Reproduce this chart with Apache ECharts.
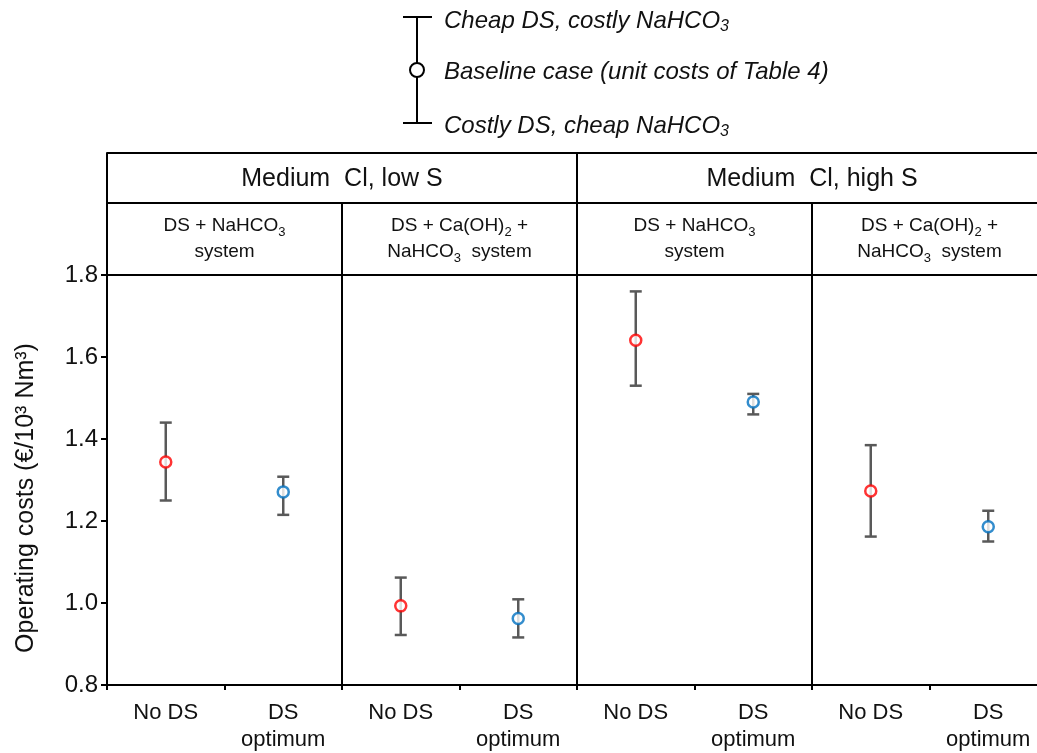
<!DOCTYPE html>
<html>
<head>
<meta charset="utf-8">
<script src="https://cdn.jsdelivr.net/npm/echarts@6/dist/echarts.min.js"></script>
<style>
  html, body { margin: 0; padding: 0; background: #fff; }
  #main { width: 1037px; height: 753px; }
</style>
</head>
<body>
<div id="main"></div>
<script>
// 数据
var categories = ['No DS', 'DS\noptimum', 'No DS', 'DS\noptimum', 'No DS', 'DS\noptimum', 'No DS', 'DS\noptimum'];
var groups = ['Medium  Cl, low S', 'Medium  Cl, high S'];
var systems = ['{t|DS + NaHCO}{s|3}\n{t|system}', '{t|DS + Ca(OH)}{s|2}{t| +}\n{t|NaHCO}{s|3}{t|  system}',
               '{t|DS + NaHCO}{s|3}\n{t|system}', '{t|DS + Ca(OH)}{s|2}{t| +}\n{t|NaHCO}{s|3}{t|  system}'];
var baseline = [1.344, 1.271, 0.993, 0.962, 1.641, 1.490, 1.273, 1.186];
var costlyNaHCO3 = [1.440, 1.308, 1.062, 1.009, 1.760, 1.510, 1.385, 1.225]; // cheap DS, costly NaHCO3
var cheapNaHCO3 = [1.250, 1.215, 0.922, 0.916, 1.530, 1.460, 1.162, 1.150];  // costly DS, cheap NaHCO3
var yTicks = [0.8, 1.0, 1.2, 1.4, 1.6, 1.8];

var font = 'Liberation Sans, Arial, sans-serif';
var black = '#000';
var txt = '#111';

var errData = [], noDsData = [], dsOptData = [];
for (var i = 0; i < categories.length; i++) {
  errData.push([i, cheapNaHCO3[i], costlyNaHCO3[i]]);
  if (i % 2 === 0) noDsData.push([i, baseline[i]]);
  else dsOptData.push([i, baseline[i]]);
}

var myChart = echarts.init(document.getElementById('main'));

var legendRich = {
  i: { fontFamily: font, fontStyle: 'italic', fontSize: 24, fill: txt },
  s: { fontFamily: font, fontStyle: 'italic', fontSize: 16, fill: txt, padding: [12, 0, 0, 0] }
};

var option = {
  animation: false,
  backgroundColor: '#fff',
  // 图表区超出画布右边
  grid: { left: 107, top: 275, width: 940, bottom: 68, outerBoundsMode: 'none', containLabel: false },
  xAxis: [
    {
      type: 'category', data: categories, position: 'bottom',
      axisLine: { lineStyle: { color: black, width: 2 } },
      axisTick: { show: true, interval: 0, length: 5, lineStyle: { color: black, width: 2 } },
      axisLabel: { interval: 0, color: txt, fontFamily: font, fontSize: 22, lineHeight: 27, margin: 14 },
      splitLine: { show: false }
    },
    {
      // 系统行
      type: 'category', data: systems, position: 'top', offset: 0,
      axisLine: { lineStyle: { color: black, width: 2 } },
      axisTick: { show: true, interval: 0, length: 72, lineStyle: { color: black, width: 2 } },
      splitLine: { show: true, interval: 0, lineStyle: { color: black, width: 2 } },
      axisLabel: {
        interval: 0, margin: 10, fontFamily: font, color: txt, lineHeight: 26,
        rich: {
          t: { fontSize: 19, fontFamily: font, color: txt, lineHeight: 26 },
          s: { fontSize: 13, fontFamily: font, color: txt, lineHeight: 26, verticalAlign: 'bottom', padding: [9, 0, 0, 0] }
        }
      }
    },
    {
      // 工况行
      type: 'category', data: groups, position: 'top', offset: 72,
      axisLine: { lineStyle: { color: black, width: 2 } },
      axisTick: { show: true, interval: 0, length: 50, lineStyle: { color: black, width: 2 } },
      axisLabel: { interval: 0, margin: 11, fontFamily: font, fontSize: 25, color: txt },
      splitLine: { show: false }
    },
    {
      type: 'category', data: groups, position: 'top', offset: 122,
      axisLine: { lineStyle: { color: black, width: 2 } },
      axisTick: { show: false }, axisLabel: { show: false }, splitLine: { show: false }
    }
  ],
  yAxis: {
    type: 'value', min: yTicks[0], max: yTicks[yTicks.length - 1], interval: 0.2,
    name: 'Operating costs (€/10³ Nm³)', nameLocation: 'middle', nameGap: 68,
    nameTextStyle: { fontFamily: font, fontSize: 25, color: txt, padding: [0, 36, 0, 0] },
    axisLine: { show: true, lineStyle: { color: black, width: 2 } },
    axisTick: { show: true, length: 6, lineStyle: { color: black, width: 2 } },
    axisLabel: { fontFamily: font, fontSize: 24, color: txt, margin: 9,
                 formatter: function (v) { return v.toFixed(1); } },
    splitLine: { show: false }
  },
  graphic: [
    // 图例
    { type: 'line', shape: { x1: 417, y1: 17, x2: 417, y2: 123 }, style: { stroke: black, lineWidth: 2 } },
    { type: 'line', shape: { x1: 403, y1: 17, x2: 432, y2: 17 }, style: { stroke: black, lineWidth: 2 } },
    { type: 'line', shape: { x1: 403, y1: 123, x2: 432, y2: 123 }, style: { stroke: black, lineWidth: 2 } },
    { type: 'circle', shape: { cx: 417, cy: 70, r: 7 }, style: { fill: '#fff', stroke: black, lineWidth: 2 } },
    { type: 'text', x: 444, y: 21, style: { text: '{i|Cheap DS, costly NaHCO}{s|3}', verticalAlign: 'middle', rich: legendRich } },
    { type: 'text', x: 444, y: 72, style: { text: 'Baseline case (unit costs of Table 4)', verticalAlign: 'middle',
      fontFamily: font, fontStyle: 'italic', fontSize: 24, fill: txt } },
    { type: 'text', x: 444, y: 126, style: { text: '{i|Costly DS, cheap NaHCO}{s|3}', verticalAlign: 'middle', rich: legendRich } }
  ],
  series: [
    {
      // 误差棒
      type: 'custom', name: 'range', data: errData, z: 2,
      encode: { x: 0, y: [1, 2] },
      renderItem: function (params, api) {
        var lo = api.coord([api.value(0), api.value(1)]);
        var hi = api.coord([api.value(0), api.value(2)]);
        var cap = 6;
        var st = { stroke: '#595959', lineWidth: 2.5 };
        return {
          type: 'group',
          children: [
            { type: 'line', shape: { x1: lo[0], y1: lo[1], x2: hi[0], y2: hi[1] }, style: st },
            { type: 'line', shape: { x1: lo[0] - cap, y1: lo[1], x2: lo[0] + cap, y2: lo[1] }, style: st },
            { type: 'line', shape: { x1: hi[0] - cap, y1: hi[1], x2: hi[0] + cap, y2: hi[1] }, style: st }
          ]
        };
      }
    },
    {
      type: 'scatter', name: 'No DS', data: noDsData, z: 3,
      symbol: 'circle', symbolSize: 11,
      itemStyle: { color: '#fff', borderColor: '#ff0000', borderWidth: 2.5 }
    },
    {
      type: 'scatter', name: 'DS optimum', data: dsOptData, z: 3,
      symbol: 'circle', symbolSize: 11,
      itemStyle: { color: '#fff', borderColor: '#0070c0', borderWidth: 2.5 }
    }
  ]
};

myChart.setOption(option);
</script>
</body>
</html>
